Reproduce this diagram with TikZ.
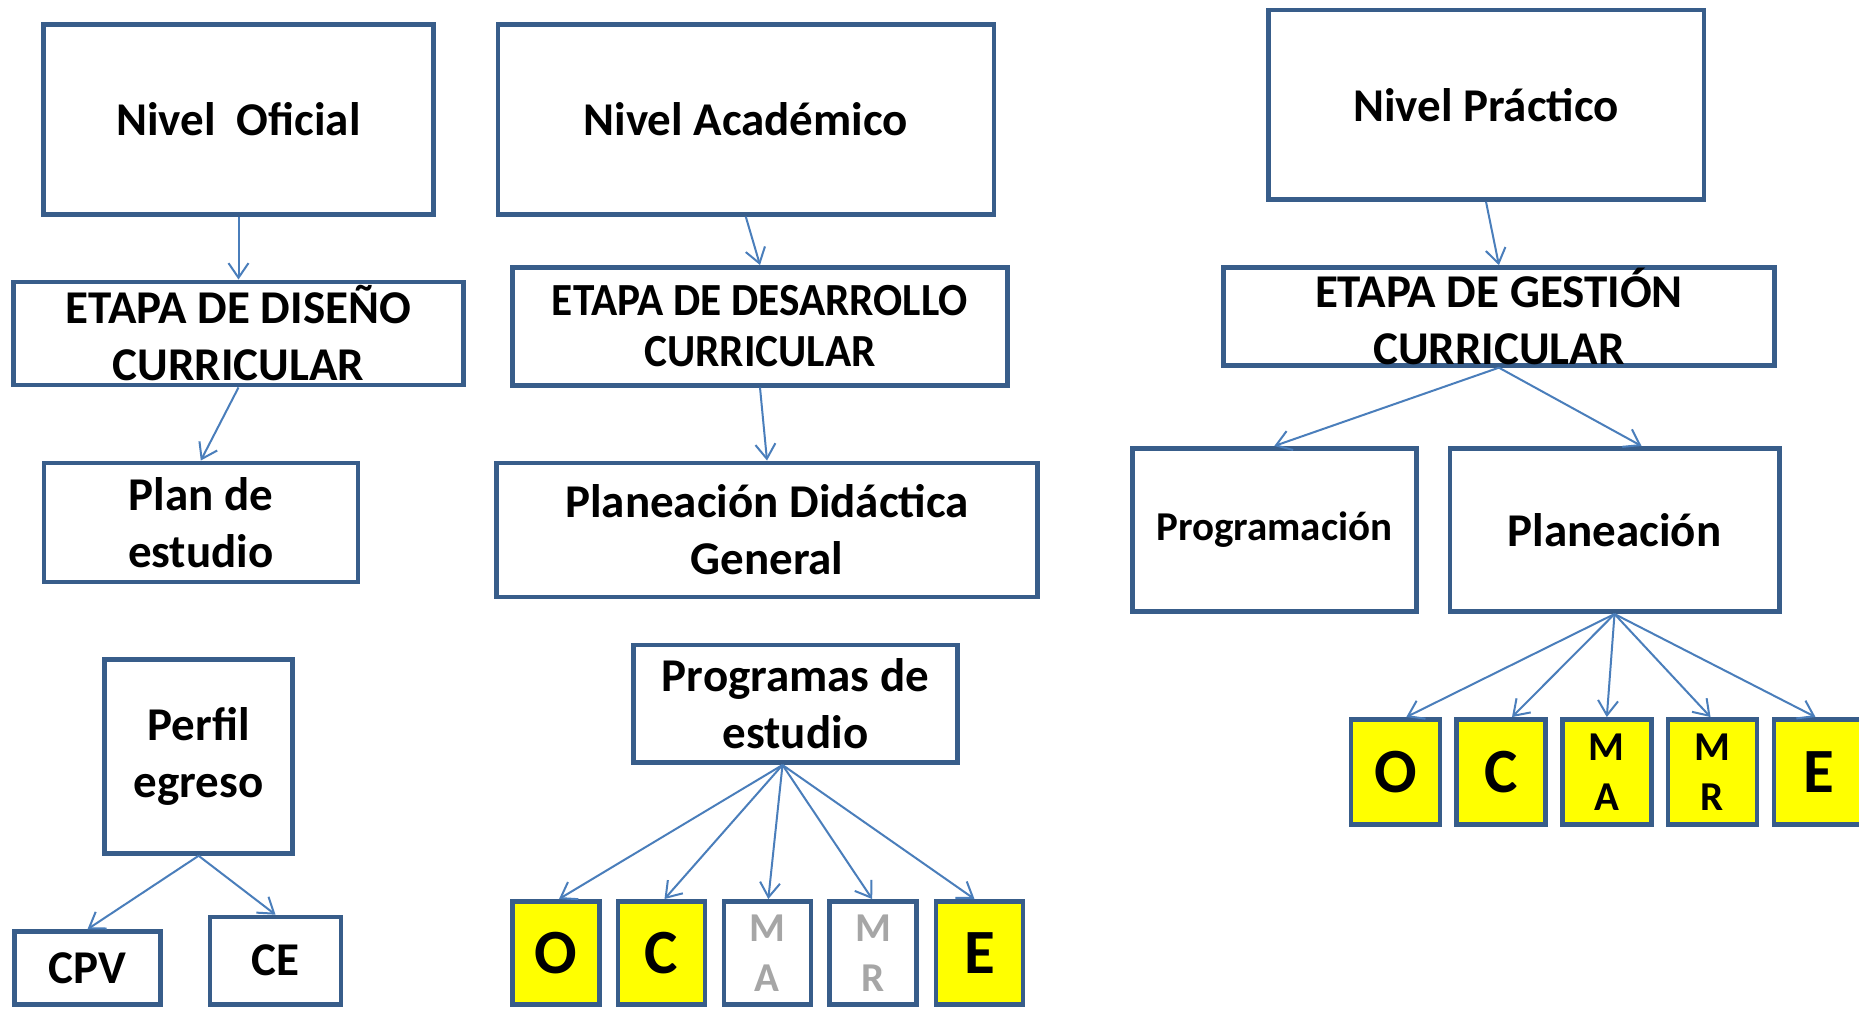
\documentclass[tikz,border=0pt]{standalone}
\usepackage{fontspec}
\setmainfont{Carlito}
\usepackage{graphicx}
\usetikzlibrary{arrows.meta,calc}
\definecolor{bordc}{HTML}{385D8A}
\definecolor{arrc}{HTML}{4A7EBB}
\definecolor{greyt}{HTML}{A6A6A6}
\definecolor{yel}{HTML}{FFFF00}
\newcommand{\fsz}[2]{\fontsize{#1}{#2}\selectfont}
\newcommand{\cond}[1]{\scalebox{0.94}[1]{#1}}
\begin{document}
\begin{tikzpicture}[x=0.75pt,y=-0.75pt,
  box/.style={draw=bordc, line width=3.4pt, fill=white, inner sep=0pt, align=center, font=\bfseries\fsz{35.25}{42.75}},
  sz/.style 2 args={minimum width=#1*0.75pt, minimum height=#2*0.75pt},
  letter/.style={box, fill=yel, font=\bfseries\fsz{47.25}{50}},
  smalllet/.style={box, font=\bfseries\fsz{30.75}{37.5}},
  conn/.style={draw=arrc, line width=1.5pt, -{Straight Barb[length=11pt,width=15pt]}},
]
\clip (0,0) rectangle (1859,1008);
\fill[white] (0,0) rectangle (1859,1008);

% top level
\node[box, sz={389.6}{189.7}] (nof) at (238.5,119.6) {Nivel\ \ Oficial};
\node[box, sz={496}{189.7}] (nac) at (745.8,119.6) {Nivel Académico};
\node[box, sz={435.5}{189.3}] (npr) at (1486,104.8) {Nivel Práctico};

% stages
\node[box, sz={449.6}{103.4}] (eds) at (238.5,333.5) {ETAPA DE DISEÑO\\CURRICULAR};
\node[box, sz={495.5}{118}, font=\bfseries\fsz{34.5}{38.5}] (ede) at (760,326.3) {\cond{ETAPA DE DESARROLLO}\\\cond{CURRICULAR}};
\node[box, sz={551}{98}] (ege) at (1498.9,316.4) {ETAPA DE GESTIÓN\\CURRICULAR};

% third level
\node[box, sz={314}{119}] (plan) at (200.8,522.3) {Plan de\\estudio};
\node[box, sz={541.5}{134}] (pdg) at (767,529.8) {Planeación Didáctica\\General};
\node[box, sz={284}{163.5}, font=\bfseries\fsz{30.75}{37.5}] (prg) at (1274.3,530) {Programación};
\node[box, sz={329.5}{163.5}] (pla) at (1614.5,530) {Planeación};

% left bottom
\node[box, sz={187.7}{194}] (per) at (198.6,756.5) {Perfil\\egreso};
\node[box, sz={146.5}{73}] (cpv) at (87.5,968) {CPV};
\node[box, sz={131.4}{87.5}] (ce) at (275.5,960.7) {CE};

% middle bottom
\node[box, sz={323.6}{117.8}] (pde) at (795.5,703.8) {Programas de\\estudio};
\node[letter, sz={87}{103}] (mO) at (556,952.8) {O};
\node[letter, sz={87}{103}] (mC) at (661.5,952.8) {C};
\node[smalllet, sz={87}{103}, text=greyt] (mMA) at (767.3,952.8) {M\\A};
\node[smalllet, sz={87}{103}, text=greyt] (mMR) at (873.2,952.8) {M\\R};
\node[letter, sz={87}{103}] (mE) at (979.5,952.8) {E};

% right bottom
\node[letter, sz={89}{105}] (rO) at (1395.3,771.8) {O};
\node[letter, sz={89}{105}] (rC) at (1501,771.8) {C};
\node[smalllet, fill=yel, sz={89}{105}] (rMA) at (1606.8,771.8) {M\\A};
\node[smalllet, fill=yel, sz={89}{105}] (rMR) at (1712.5,771.8) {M\\R};
\node[letter, sz={89}{105}] (rE) at (1818.5,771.8) {E};

% connectors
\draw[conn] (nof.south) -- (eds.north);
\draw[conn] (nac.south) -- (ede.north);
\draw[conn] (npr.south) -- (ege.north);
\draw[conn] (eds.south) -- (plan.north);
\draw[conn] (ede.south) -- (pdg.north);
\draw[conn] (ege.south) -- (prg.north);
\draw[conn] (ege.south) -- ($(pla.north)+(27,0)$);
\draw[conn] (per.south) -- (cpv.north);
\draw[conn] (per.south) -- (ce.north);
\coordinate (pdeS) at ($(pde.south)+(-13,0)$);
\foreach \n/\d in {mO/3, mC/3, mMA/1, mMR/-1, mE/-5}
  \draw[conn] (pdeS) -- ($(\n.north)+(\d,0)$);
\foreach \n/\d in {rO/11, rC/11, rMA/0, rMR/-2, rE/-3}
  \draw[conn] (pla.south) -- ($(\n.north)+(\d,0)$);
\end{tikzpicture}
\end{document}
